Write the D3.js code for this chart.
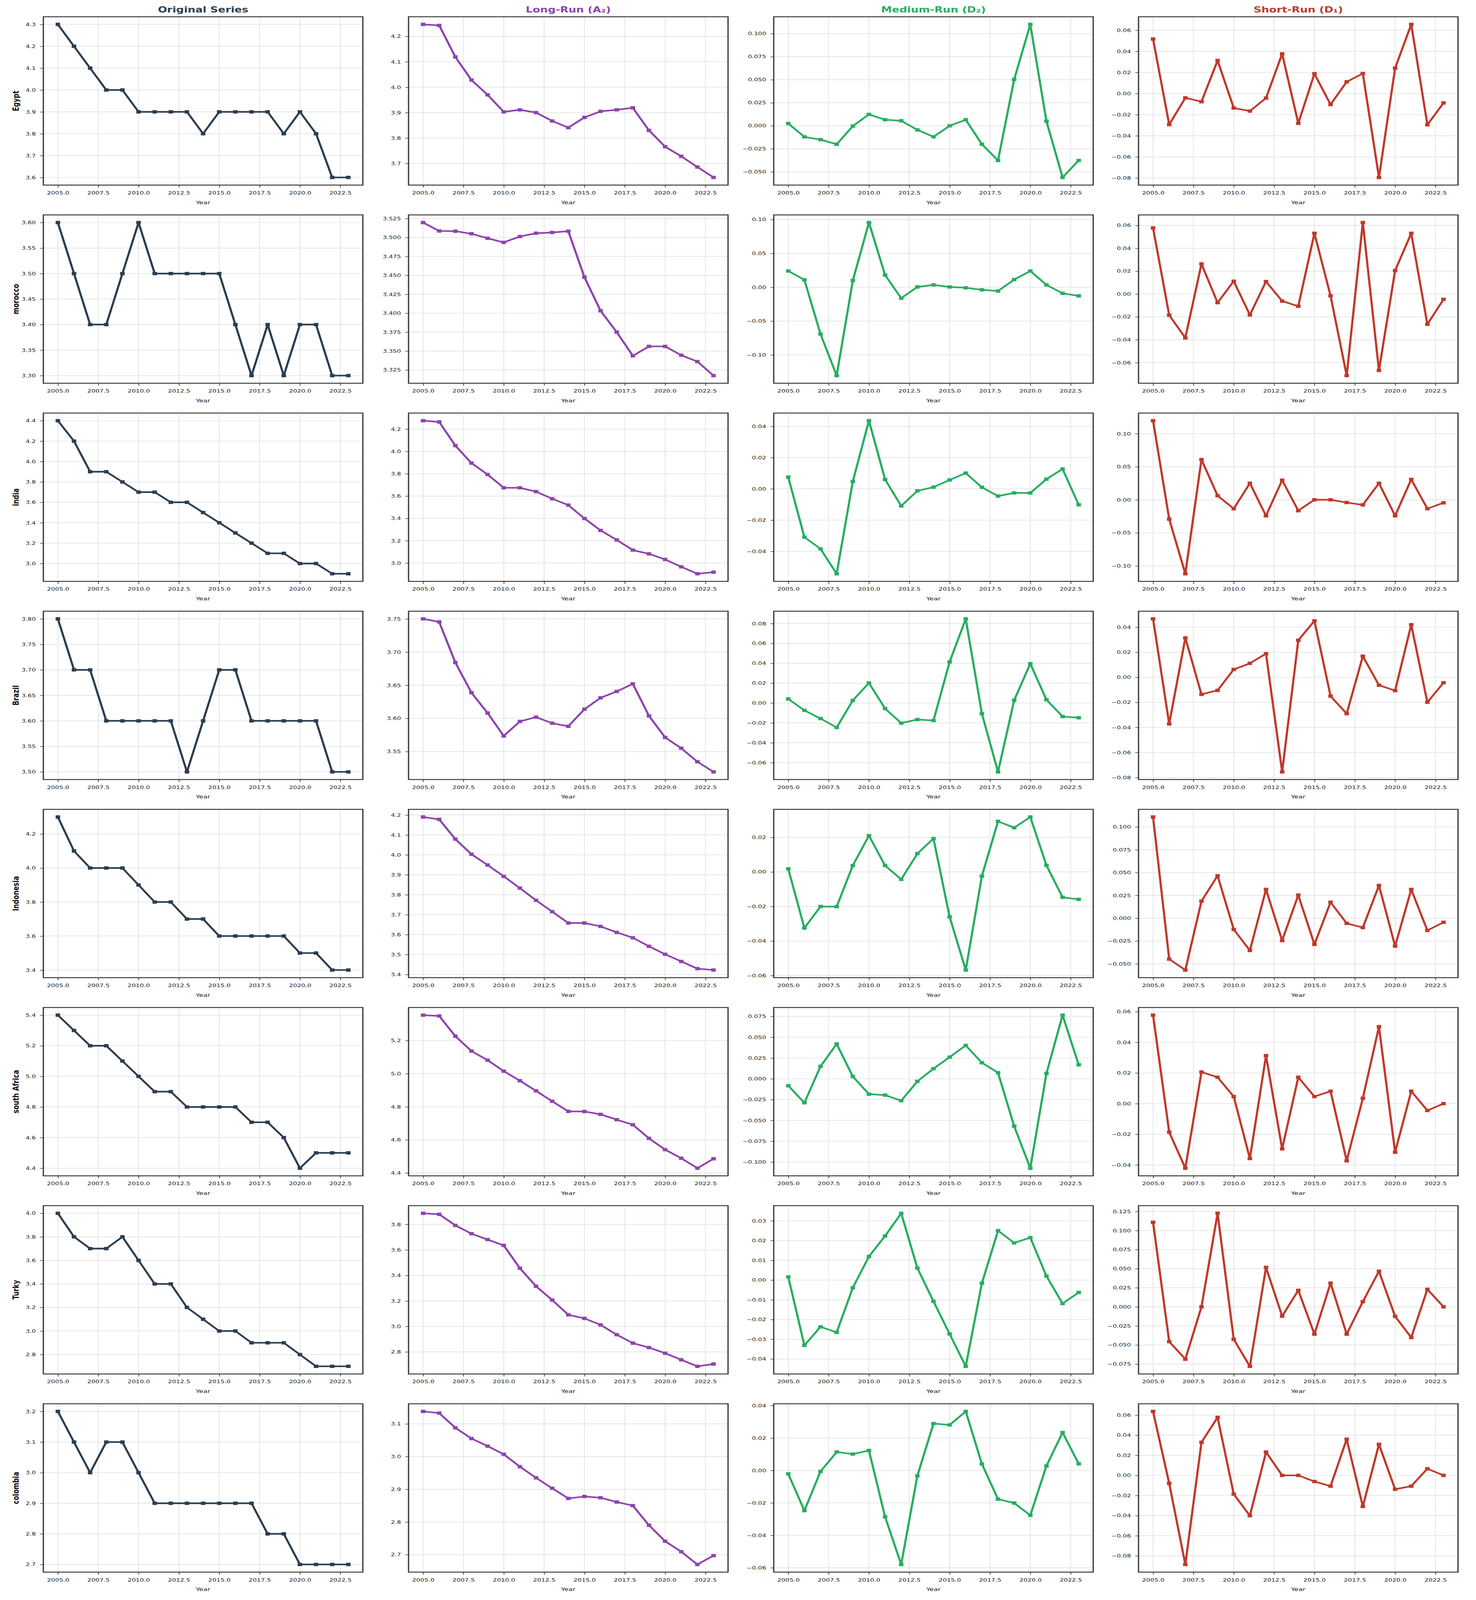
<!DOCTYPE html>
<html>
<head>
<meta charset="utf-8">
<script src="https://cdn.jsdelivr.net/npm/d3@7"></script>
<style>
  body { margin: 0; background: #fff; overflow: hidden; }
  svg { display: block; }
  svg text { font-family: "DejaVu Sans", sans-serif; }
</style>
</head>
<body>
<div id="chart"></div>
<script>
// ---- data ----
var countries = ["Egypt", "morocco", "india", "Brazil", "Indonesia", "south Africa", "Turky", "colombia"];
var years = [2005, 2006, 2007, 2008, 2009, 2010, 2011, 2012, 2013, 2014, 2015, 2016, 2017, 2018, 2019, 2020, 2021, 2022, 2023];
var xTicks = [2005, 2007.5, 2010, 2012.5, 2015, 2017.5, 2020, 2022.5];

var original = [
  [4.3, 4.2, 4.1, 4.0, 4.0, 3.9, 3.9, 3.9, 3.9, 3.8, 3.9, 3.9, 3.9, 3.9, 3.8, 3.9, 3.8, 3.6, 3.6],
  [3.6, 3.5, 3.4, 3.4, 3.5, 3.6, 3.5, 3.5, 3.5, 3.5, 3.5, 3.4, 3.3, 3.4, 3.3, 3.4, 3.4, 3.3, 3.3],
  [4.4, 4.2, 3.9, 3.9, 3.8, 3.7, 3.7, 3.6, 3.6, 3.5, 3.4, 3.3, 3.2, 3.1, 3.1, 3.0, 3.0, 2.9, 2.9],
  [3.8, 3.7, 3.7, 3.6, 3.6, 3.6, 3.6, 3.6, 3.5, 3.6, 3.7, 3.7, 3.6, 3.6, 3.6, 3.6, 3.6, 3.5, 3.5],
  [4.3, 4.1, 4.0, 4.0, 4.0, 3.9, 3.8, 3.8, 3.7, 3.7, 3.6, 3.6, 3.6, 3.6, 3.6, 3.5, 3.5, 3.4, 3.4],
  [5.4, 5.3, 5.2, 5.2, 5.1, 5.0, 4.9, 4.9, 4.8, 4.8, 4.8, 4.8, 4.7, 4.7, 4.6, 4.4, 4.5, 4.5, 4.5],
  [4.0, 3.8, 3.7, 3.7, 3.8, 3.6, 3.4, 3.4, 3.2, 3.1, 3.0, 3.0, 2.9, 2.9, 2.9, 2.8, 2.7, 2.7, 2.7],
  [3.2, 3.1, 3.0, 3.1, 3.1, 3.0, 2.9, 2.9, 2.9, 2.9, 2.9, 2.9, 2.9, 2.8, 2.8, 2.7, 2.7, 2.7, 2.7]
];

var longRun = [
  [4.247, 4.243, 4.119, 4.028, 3.970, 3.903, 3.911, 3.900, 3.867, 3.841, 3.881, 3.905, 3.911, 3.919, 3.830, 3.766, 3.728, 3.686, 3.645],
  [3.5198, 3.5087, 3.5084, 3.505, 3.499, 3.4936, 3.5013, 3.5057, 3.5067, 3.5084, 3.4476, 3.4032, 3.375, 3.3437, 3.3561, 3.3561, 3.3444, 3.336, 3.3175],
  [4.275, 4.264, 4.052, 3.895, 3.793, 3.674, 3.674, 3.640, 3.576, 3.519, 3.399, 3.292, 3.207, 3.116, 3.082, 3.032, 2.966, 2.904, 2.918],
  [3.750, 3.7454, 3.6842, 3.6387, 3.6081, 3.5736, 3.5954, 3.6019, 3.5927, 3.5881, 3.6138, 3.631, 3.6406, 3.652, 3.6038, 3.5713, 3.555, 3.5347, 3.5194],
  [4.190, 4.178, 4.079, 4.003, 3.949, 3.892, 3.833, 3.772, 3.715, 3.658, 3.658, 3.641, 3.611, 3.584, 3.541, 3.501, 3.465, 3.429, 3.422],
  [5.353, 5.348, 5.226, 5.136, 5.081, 5.015, 4.957, 4.896, 4.833, 4.772, 4.771, 4.754, 4.722, 4.691, 4.609, 4.541, 4.489, 4.429, 4.486],
  [3.887, 3.879, 3.792, 3.727, 3.681, 3.635, 3.456, 3.315, 3.207, 3.091, 3.063, 3.012, 2.935, 2.869, 2.834, 2.790, 2.738, 2.687, 2.705],
  [3.138, 3.133, 3.088, 3.055, 3.032, 3.007, 2.969, 2.935, 2.903, 2.872, 2.878, 2.874, 2.861, 2.850, 2.790, 2.741, 2.709, 2.670, 2.697]
];

var mediumRun = [
  [0.0025, -0.012, -0.015, -0.020, -0.0003, 0.0124, 0.0066, 0.0055, -0.0044, -0.0119, 0.000, 0.0066, -0.020, -0.0376, 0.0503, 0.110, 0.005, -0.056, -0.0376],
  [0.024, 0.0109, -0.0692, -0.1305, 0.0098, 0.0955, 0.018, -0.0162, 0.0004, 0.0034, 0.0004, -0.0008, -0.0038, -0.0056, 0.0113, 0.024, 0.0034, -0.009, -0.0128],
  [0.0075, -0.0309, -0.0384, -0.0543, 0.0047, 0.0436, 0.006, -0.0109, -0.0013, 0.0011, 0.0057, 0.0101, 0.001, -0.0046, -0.0026, -0.0026, 0.0062, 0.0127, -0.0102],
  [0.0041, -0.0074, -0.0156, -0.0246, 0.0026, 0.0202, -0.0056, -0.0202, -0.0166, -0.0176, 0.0414, 0.0847, -0.0107, -0.0693, 0.0028, 0.0396, 0.0033, -0.0136, -0.0148],
  [0.0018, -0.0325, -0.020, -0.0201, 0.0037, 0.021, 0.0037, -0.0043, 0.0106, 0.0193, -0.026, -0.0568, -0.0024, 0.0293, 0.0256, 0.0318, 0.0038, -0.0147, -0.0159],
  [-0.0083, -0.0288, 0.015, 0.0419, 0.0028, -0.0184, -0.0196, -0.0263, -0.0031, 0.0122, 0.026, 0.0401, 0.0193, 0.0073, -0.0569, -0.1074, 0.0064, 0.0765, 0.0168],
  [0.0016, -0.0331, -0.0237, -0.0265, -0.0039, 0.0119, 0.0223, 0.0338, 0.0061, -0.0108, -0.0273, -0.0437, -0.0016, 0.0250, 0.0188, 0.0215, 0.002, -0.0119, -0.0063],
  [-0.0021, -0.0248, -0.0006, 0.0114, 0.0101, 0.0123, -0.0286, -0.058, -0.0033, 0.0289, 0.0281, 0.0364, 0.004, -0.0177, -0.0201, -0.0277, 0.0028, 0.0234, 0.0041]
];

var shortRun = [
  [0.0516, -0.0294, -0.0041, -0.0077, 0.0313, -0.0137, -0.0166, -0.0043, 0.0376, -0.0282, 0.0188, -0.0104, 0.0111, 0.019, -0.0795, 0.0241, 0.0655, -0.0296, -0.0089],
  [0.0578, -0.0185, -0.0384, 0.0263, -0.0076, 0.0112, -0.0183, 0.0109, -0.0062, -0.0107, 0.0531, -0.0016, -0.0714, 0.0625, -0.0669, 0.0205, 0.0531, -0.0265, -0.0047],
  [0.1196, -0.0292, -0.1119, 0.0608, 0.0062, -0.0135, 0.025, -0.0242, 0.0296, -0.0165, 0.0, 0.0, -0.0042, -0.0077, 0.025, -0.0242, 0.0308, -0.0135, -0.0046],
  [0.0467, -0.0372, 0.0315, -0.0136, -0.0104, 0.0063, 0.0112, 0.0189, -0.0755, 0.0296, 0.0451, -0.015, -0.029, 0.0169, -0.0063, -0.0106, 0.042, -0.0199, -0.0043],
  [0.1109, -0.0448, -0.0568, 0.0187, 0.0465, -0.0123, -0.0354, 0.0315, -0.0245, 0.0253, -0.0287, 0.0175, -0.0056, -0.0103, 0.0359, -0.0306, 0.0315, -0.0134, -0.0045],
  [0.0577, -0.0186, -0.0421, 0.0206, 0.0172, 0.0046, -0.0358, 0.0313, -0.0295, 0.0172, 0.0046, 0.0081, -0.0373, 0.0035, 0.0502, -0.0317, 0.0081, -0.0045, 0.0],
  [0.1108, -0.0456, -0.0686, 0.0, 0.1226, -0.0426, -0.078, 0.0517, -0.0122, 0.0216, -0.0358, 0.0311, -0.0358, 0.0068, 0.0466, -0.0125, -0.0402, 0.023, 0.0],
  [0.0636, -0.0079, -0.0886, 0.0329, 0.0577, -0.0186, -0.0401, 0.0232, 0.0, 0.0, -0.0061, -0.0107, 0.036, -0.0309, 0.0309, -0.0138, -0.0107, 0.0066, 0.0]
];

// y tick values of every panel, as printed in the picture
var ticksOriginal = [
  [3.6, 3.7, 3.8, 3.9, 4.0, 4.1, 4.2, 4.3],
  [3.30, 3.35, 3.40, 3.45, 3.50, 3.55, 3.60],
  [3.0, 3.2, 3.4, 3.6, 3.8, 4.0, 4.2, 4.4],
  [3.50, 3.55, 3.60, 3.65, 3.70, 3.75, 3.80],
  [3.4, 3.6, 3.8, 4.0, 4.2],
  [4.4, 4.6, 4.8, 5.0, 5.2, 5.4],
  [2.8, 3.0, 3.2, 3.4, 3.6, 3.8, 4.0],
  [2.7, 2.8, 2.9, 3.0, 3.1, 3.2]
];
var ticksLong = [
  [3.7, 3.8, 3.9, 4.0, 4.1, 4.2],
  [3.325, 3.350, 3.375, 3.400, 3.425, 3.450, 3.475, 3.500, 3.525],
  [3.0, 3.2, 3.4, 3.6, 3.8, 4.0, 4.2],
  [3.55, 3.60, 3.65, 3.70, 3.75],
  [3.4, 3.5, 3.6, 3.7, 3.8, 3.9, 4.0, 4.1, 4.2],
  [4.4, 4.6, 4.8, 5.0, 5.2],
  [2.8, 3.0, 3.2, 3.4, 3.6, 3.8],
  [2.7, 2.8, 2.9, 3.0, 3.1]
];
var ticksMedium = [
  [-0.050, -0.025, 0.000, 0.025, 0.050, 0.075, 0.100],
  [-0.10, -0.05, 0.00, 0.05, 0.10],
  [-0.04, -0.02, 0.00, 0.02, 0.04],
  [-0.06, -0.04, -0.02, 0.00, 0.02, 0.04, 0.06, 0.08],
  [-0.06, -0.04, -0.02, 0.00, 0.02],
  [-0.100, -0.075, -0.050, -0.025, 0.000, 0.025, 0.050, 0.075],
  [-0.04, -0.03, -0.02, -0.01, 0.00, 0.01, 0.02, 0.03],
  [-0.06, -0.04, -0.02, 0.00, 0.02, 0.04]
];
var ticksShort = [
  [-0.08, -0.06, -0.04, -0.02, 0.00, 0.02, 0.04, 0.06],
  [-0.06, -0.04, -0.02, 0.00, 0.02, 0.04, 0.06],
  [-0.10, -0.05, 0.00, 0.05, 0.10],
  [-0.08, -0.06, -0.04, -0.02, 0.00, 0.02, 0.04],
  [-0.050, -0.025, 0.000, 0.025, 0.050, 0.075, 0.100],
  [-0.04, -0.02, 0.00, 0.02, 0.04, 0.06],
  [-0.075, -0.050, -0.025, 0.000, 0.025, 0.050, 0.075, 0.100, 0.125],
  [-0.08, -0.06, -0.04, -0.02, 0.00, 0.02, 0.04, 0.06]
];

var columns = [
  {title: "Original Series", color: "#2c3e50", values: original, ticks: ticksOriginal},
  {title: "Long-Run (A\u2082)", color: "#8e44ad", values: longRun, ticks: ticksLong},
  {title: "Medium-Run (D\u2082)", color: "#27ae60", values: mediumRun, ticks: ticksMedium},
  {title: "Short-Run (D\u2081)", color: "#c0392b", values: shortRun, ticks: ticksShort}
];

// ---- layout ----
var W = 3779, H = 4534;
// the window can be shorter than the figure, so squeeze it to fit
var outH = Math.min(window.innerHeight || H, H);
// the reference is stretched sideways, so draw in a narrower box and stretch it
var SX = 1.21;
var colLeft = [111, 1046, 1981, 2915];   // picture pixels
var panelW = 818 / SX;
var rowTop = 47.5, rowStep = 561.5, panelH = 477;

var svg = d3.select("#chart")
  .append("svg")
  .attr("width", W)
  .attr("height", outH)
  .attr("viewBox", [0, 0, W / SX, H].join(" "))
  .attr("preserveAspectRatio", "none");

var x = d3.scaleLinear().domain([2004.1, 2023.9]).range([0, panelW]);

function decimals(list) {
  return d3.max(list, function(v) {
    var s = String(Math.abs(v));
    return s.indexOf(".") < 0 ? 0 : s.length - s.indexOf(".") - 1;
  });
}

countries.forEach(function(country, r) {
  columns.forEach(function(col, c) {
    var vals = col.values[r];
    var ext = d3.extent(vals);
    var pad = (ext[1] - ext[0]) * 0.05;
    var y = d3.scaleLinear().domain([ext[0] - pad, ext[1] + pad]).range([panelH, 0]);
    var tickList = col.ticks[r];
    var fmt = d3.format("." + decimals(tickList) + "f");

    var g = svg.append("g")
      .attr("transform", "translate(" + (colLeft[c] / SX) + "," + (rowTop + r * rowStep) + ")");

    // grid
    g.append("g").selectAll("line").data(xTicks).enter().append("line")
      .attr("x1", function(d) { return x(d); }).attr("x2", function(d) { return x(d); })
      .attr("y1", 0).attr("y2", panelH)
      .attr("stroke", "#e3e3e3").attr("stroke-width", 1.6);
    g.append("g").selectAll("line").data(tickList).enter().append("line")
      .attr("x1", 0).attr("x2", panelW)
      .attr("y1", function(d) { return y(d); }).attr("y2", function(d) { return y(d); })
      .attr("stroke", "#e3e3e3").attr("stroke-width", 1.9);

    // axes
    var xAxis = g.append("g")
      .attr("transform", "translate(0," + panelH + ")")
      .call(d3.axisBottom(x).tickValues(xTicks).tickFormat(d3.format(".1f")).tickSize(7).tickPadding(10));
    var yAxis = g.append("g")
      .call(d3.axisLeft(y).tickValues(tickList).tickFormat(function(d) { return fmt(d).replace("-", "\u2212"); })
        .tickSize(7).tickPadding(9));
    [xAxis, yAxis].forEach(function(a) {
      a.select(".domain").remove();
      a.selectAll(".tick line").attr("stroke", "#333").attr("stroke-width", 1.5);
      a.selectAll(".tick text").attr("fill", "#222").style("font-size", "13.5px");
    });

    // series line and square markers
    var line = d3.line()
      .x(function(d, i) { return x(years[i]); })
      .y(function(d) { return y(d); });
    g.append("path")
      .datum(vals)
      .attr("d", line)
      .attr("fill", "none")
      .attr("stroke", col.color)
      .attr("stroke-width", 4.6)
      .attr("stroke-linejoin", "round");
    var ms = 9.5;
    g.append("g").selectAll("rect").data(vals).enter().append("rect")
      .attr("x", function(d, i) { return x(years[i]) - ms / 2; })
      .attr("y", function(d) { return y(d) - ms / 2; })
      .attr("width", ms).attr("height", ms)
      .attr("fill", col.color);

    // frame
    g.append("rect")
      .attr("width", panelW).attr("height", panelH)
      .attr("fill", "none").attr("stroke", "#333").attr("stroke-width", 2.6);

    // x label
    g.append("text")
      .attr("x", panelW / 2).attr("y", panelH + 54)
      .attr("text-anchor", "middle")
      .attr("fill", "#222")
      .style("font-size", "14.5px")
      .text("Year");

    // column titles on the top row
    if (r === 0) {
      g.append("text")
        .attr("x", panelW / 2).attr("y", -12)
        .attr("text-anchor", "middle")
        .attr("fill", col.color)
        .style("font-size", "23px").style("font-weight", "bold")
        .text(col.title);
    }
    // country names on the first column
    if (c === 0) {
      g.append("text")
        .attr("transform", "translate(" + (40 / SX - colLeft[0] / SX) + "," + (panelH / 2) + ") rotate(-90)")
        .attr("dy", "0.35em")
        .attr("text-anchor", "middle")
        .attr("fill", "#111")
        .style("font-size", "18px").style("font-weight", "bold")
        .text(country);
    }
  });
});
</script>
</body>
</html>
